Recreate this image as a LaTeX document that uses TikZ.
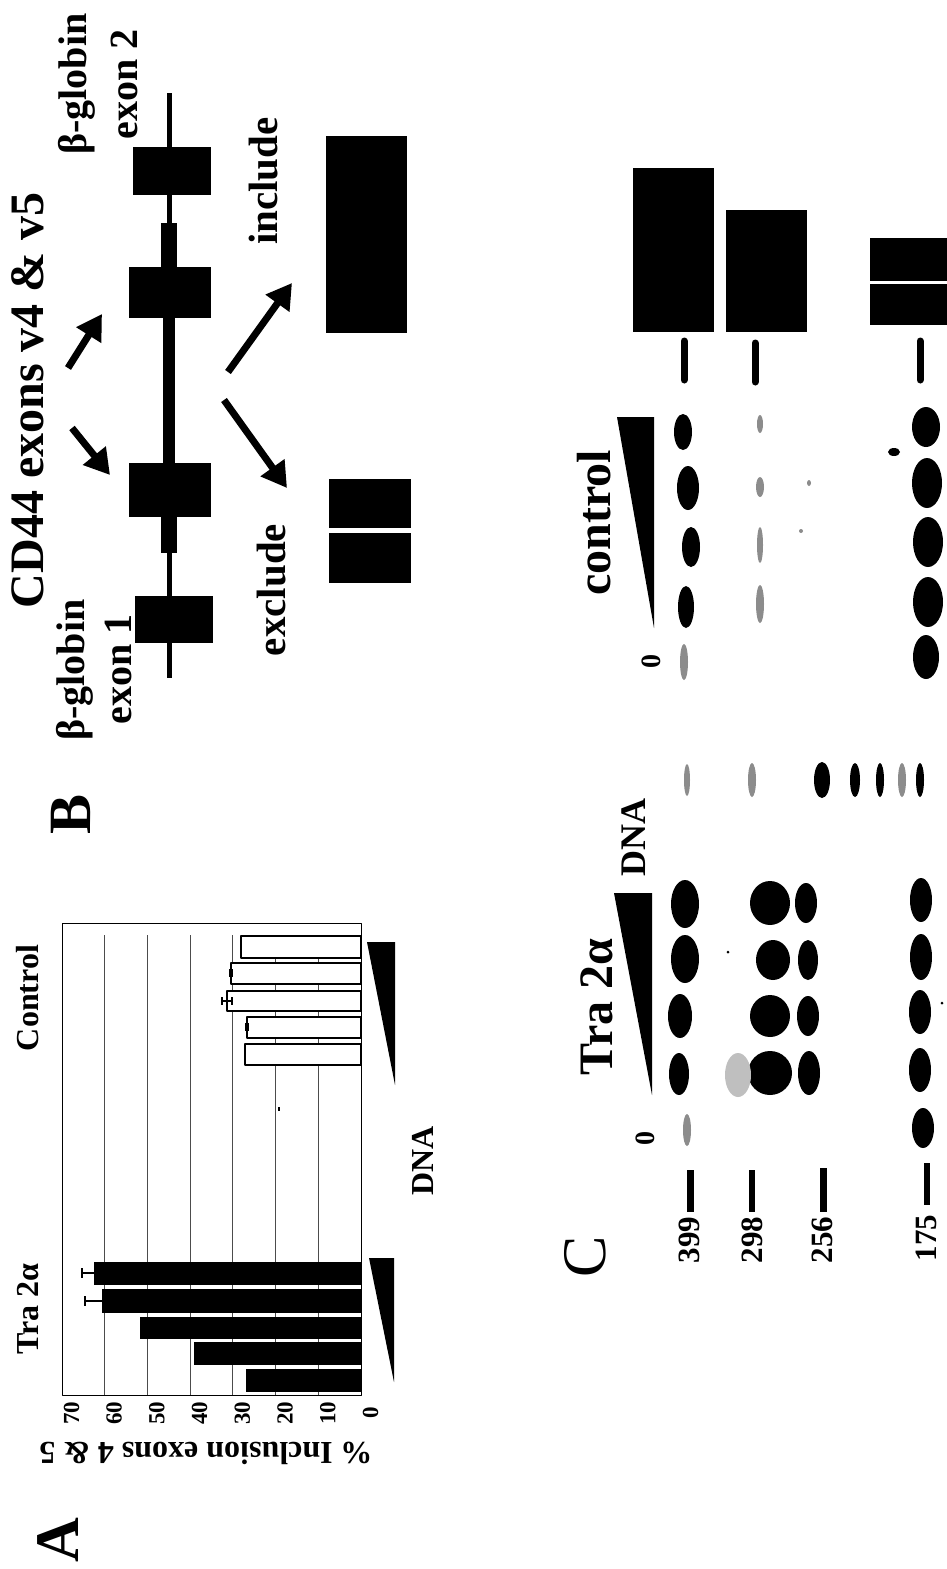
\documentclass[tikz,border=0pt]{standalone}
\usepackage{fontspec}
\setmainfont{Liberation Serif}
\usetikzlibrary{arrows.meta}

\newcommand{\taille}[1]{\fontsize{#1}{#1}\selectfont}

\tikzset{
  etiq/.style={rotate=90, anchor=base, inner sep=0pt},
  fleche/.style={line width=7pt, -{Triangle[length=25pt,width=28pt]}},
  barreC/.style={fill=white, draw=black, line width=1.3pt},
  barreT/.style={fill=black},
  erreur/.style={line width=1.3pt},
  marque/.style={line width=7pt, line cap=round},
  bande/.style={fill=black},
  pale/.style={fill=black!45},
}

\begin{document}
\begin{tikzpicture}[x=1pt, y=-1pt, line join=round]

            \useasboundingbox (0,0) rectangle (947,1569);
            \fill[white] (0,0) rectangle (947,1569);

            % Panneau B : minigène
            \node[etiq, font=\bfseries\taille{48}] (titreB) at (43,400) {CD44 exons v4 \& v5};
            \node[etiq, font=\bfseries\taille{60}] (lettreB) at (90,814) {B};
            \node[etiq, font=\bfseries\taille{40}] (globun) at (84,670) {β-globin};
            \node[etiq, font=\bfseries\taille{40}] (exun) at (131,669) {exon 1};
            \node[etiq, font=\bfseries\taille{40}] (globdeux) at (86,84) {β-globin};
            \node[etiq, font=\bfseries\taille{40}] (exdeux) at (137,84) {exon 2};

            \fill (167,93) rectangle (172,678); % intron
            \fill (161,223) rectangle (177,267);
            \fill (163,318) rectangle (175,463);
            \fill (161,517) rectangle (177,553);

            \fill (133,147) rectangle (211,195); % exon 2
            \fill (129,267) rectangle (211,318); % v5
            \fill (129,463) rectangle (211,517); % v4
            \fill (135,596) rectangle (213,643); % exon 1

            % Flèches
            \coordinate (qv5) at (68,368);
            \coordinate (pv5) at (102,314);
            \coordinate (qv4) at (72,428);
            \coordinate (pv4) at (110,475);
            \coordinate (qinc) at (228,372);
            \coordinate (pinc) at (292,283);
            \coordinate (qexc) at (224,400);
            \coordinate (pexc) at (287,488);
            \draw[fleche] (qv5) -- (pv5);
            \draw[fleche] (qv4) -- (pv4);
            \draw[fleche] (qinc) -- (pinc);
            \draw[fleche] (qexc) -- (pexc);

            \node[etiq, font=\bfseries\taille{41}] (inclu) at (277,181) {include};
            \node[etiq, font=\bfseries\taille{41}] (exclu) at (285,590) {exclude};

            \fill (326,136) rectangle (407,333); % produit inclus
            \fill (329,479) rectangle (411,528); % produit exclu
            \fill (329,533) rectangle (411,583);

            % Panneau A : histogramme
            \draw[line width=0.8pt] (62,923) rectangle (361,1395);
            \foreach \v in {10,20,...,60}
              \draw[black!70, line width=0.8pt] ({361-4.271*\v},935) -- ({361-4.271*\v},1395);
            \foreach \v in {0,10,...,70}
              \node[etiq, font=\bfseries\taille{23}] (t\v) at ({378-4.271*\v},1413) {\v};

            \foreach \ya/\yb/\xg in {936/958/241, 963/984/231, 991/1011/227, 1017/1038/247, 1044/1065/245}
              \draw[barreC] (\xg,\ya) rectangle (361,\yb);
            \foreach \ya/\yb/\xg in {1262/1285/94, 1289/1313/102, 1317/1339/140, 1342/1365/194, 1369/1392/246}
              \fill[barreT] (\xg,\ya) rectangle (361,\yb);

            \draw[erreur] (94,1273) -- (82,1273); % barres d'erreur
            \draw[erreur] (82,1268) -- (82,1278);
            \draw[erreur] (102,1301) -- (85,1301);
            \draw[erreur] (85,1296) -- (85,1306);
            \draw[erreur] (222,1001) -- (232,1001);
            \draw[erreur] (222,997) -- (222,1005);
            \draw[erreur] (232,997) -- (232,1005);
            \fill (229,969) rectangle (233,977);
            \fill (245,1023) rectangle (249,1031);
            \fill (278,1107) rectangle (280,1111);

            \fill (367,942) -- (395,942) -- (395,1085) -- cycle; % coins ADN
            \fill (369,1258) -- (394,1258) -- (394,1382) -- cycle;

            \node[etiq, font=\bfseries\taille{32}] (ctrlA) at (38,998) {Control};
            \node[etiq, font=\bfseries\taille{32}] (traA) at (38,1309) {Tra 2α};
            \node[etiq, font=\bfseries\taille{32}] (adnA) at (433,1161) {DNA};
            \node[rotate=180, anchor=base, inner sep=0pt, font=\bfseries\taille{32}] (axeA) at (206,1442) {\% Inclusion exons 4 \& 5};
            \node[etiq, font=\bfseries\taille{62}] (lettreA) at (78,1540) {A};

            % Panneau C : gel
            \fill (633,168) rectangle (714,332);
            \fill (726,210) rectangle (807,332);
            \fill (870,238) rectangle (947,281);
            \fill (870,284) rectangle (947,325);
            \draw[marque] (684,341) -- (684,380);
            \draw[marque] (755,343) -- (755,382);
            \draw[marque] (920,341) -- (920,380);

            \fill (617,417) -- (654,417) -- (654,628) -- cycle;
            \fill (614,893) -- (652,893) -- (652,1095) -- cycle;

            \node[etiq, font=\bfseries\taille{48}] (ctrlC) at (610,523) {control};
            \node[etiq, font=\bfseries\taille{28}] (zeroa) at (660,661) {0};
            \node[etiq, font=\bfseries\taille{36}] (adnC) at (645,837) {DNA};
            \node[etiq, font=\bfseries\taille{48}] (traC) at (612,1007) {Tra 2α};
            \node[etiq, font=\bfseries\taille{28}] (zerob) at (654,1138) {0};
            \node[etiq, font=\taille{62}] (lettreC) at (605,1257) {C};

            % bandes du gel
            \foreach \x/\y/\rx/\ry in {683/432/9/18, 688/488/11/22, 691/547/9/20, 686/607/8/21,
                926/427/14/20, 927/483/15/25, 928/542/15/25, 928/602/15/25, 926/657/13/22, 894/452/6/4,
                685/904/14/24, 685/959/14/24, 680/1016/12/22, 679/1074/10/21,
                770/903/20/22, 773/960/17/20, 770/1016/20/21, 770/1073/22/22,
                806/903/11/20, 808/960/10/20, 808/1016/11/20, 809/1073/11/22,
                921/900/11/22, 921/957/11/23, 920/1012/11/22, 920/1070/11/22, 923/1128/11/20,
                822/780/8/18, 855/780/5/17, 880/780/4/17, 920/780/4/17}
              \fill[bande] (\x,\y) ellipse [x radius=\rx pt, y radius=\ry pt];
            \foreach \x/\y/\rx/\ry in {684/662/4/18, 760/424/3/9, 760/487/4/10, 760/545/3/18, 760/604/4/19,
                687/1130/4/16, 687/780/3/16, 752/780/4/17, 902/780/4/17, 809/483/2/3, 801/531/2/2}
              \fill[pale] (\x,\y) ellipse [x radius=\rx pt, y radius=\ry pt];
            \fill[black!25] (738,1075) ellipse [x radius=13pt, y radius=22pt]; % traînée
            \fill (728,952) circle [radius=1.5pt];
            \fill (942,1003) circle [radius=1.5pt];

            % marqueurs de taille
            \fill (687,1170) rectangle (694,1212);
            \fill (749,1170) rectangle (755,1212);
            \fill (820,1168) rectangle (827,1212);
            \fill (924,1163) rectangle (930,1205);
            \node[etiq, font=\bfseries\taille{31}] (m399) at (699,1240) {399};
            \node[etiq, font=\bfseries\taille{31}] (m298) at (762,1240) {298};
            \node[etiq, font=\bfseries\taille{31}] (m256) at (832,1240) {256};
            \node[etiq, font=\bfseries\taille{31}] (m175) at (936,1238) {175};

\end{tikzpicture}
\end{document}
